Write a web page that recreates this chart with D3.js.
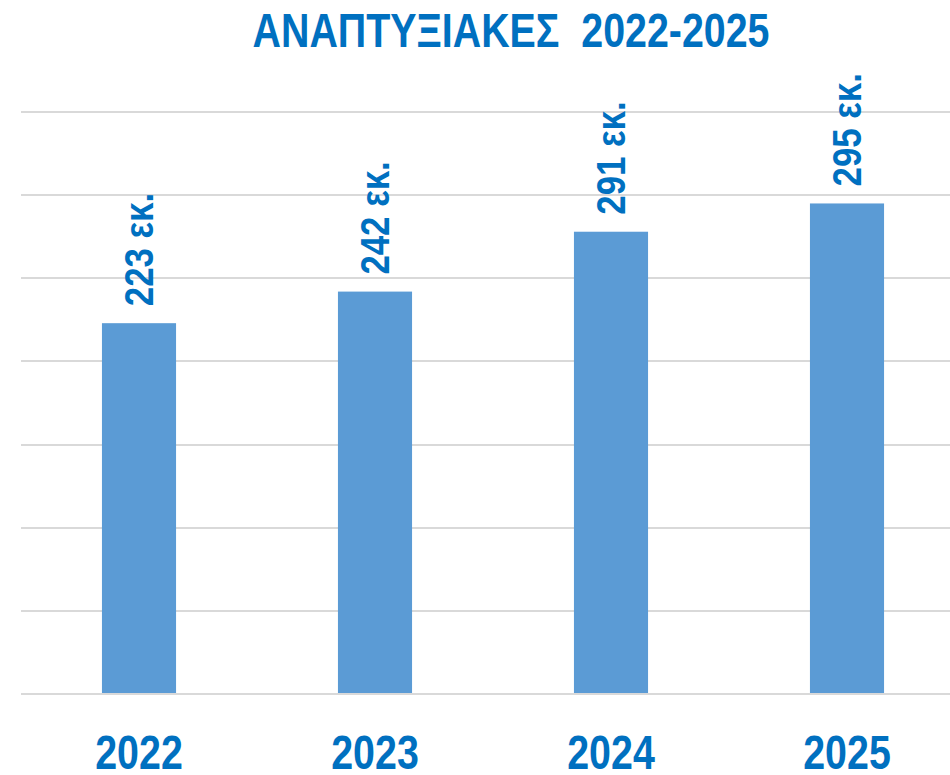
<!DOCTYPE html>
<html><head><meta charset="utf-8">
<script src="https://cdn.jsdelivr.net/npm/d3@7/dist/d3.min.js"></script>
<style>html,body{margin:0;padding:0;background:#fff;overflow:hidden}</style>
</head><body>
<svg id="chart" width="950" height="775"></svg>
<script>
const title = "ΑΝΑΠΤΥΞΙΑΚΕΣ  2022-2025";
const categories = ["2022", "2023", "2024", "2025"];
const values = [223, 242, 278, 295];
const valueLabels = ["223 εκ.", "242 εκ.", "291 εκ.", "295 εκ."];
const yTicks = [0, 50, 100, 150, 200, 250, 300, 350];

const svg = d3.select("#chart");
const W = 950, H = 775;
const m = {left: 21, right: -15, top: 112, bottom: 81};
const font = "'Liberation Sans Narrow', 'Liberation Sans', Arial, sans-serif";
const blue = "#0070C0";
const narrowX = 0.82;

const x = d3.scaleBand().domain(categories).range([m.left, W - m.right]).paddingInner(0.686).paddingOuter(0.343);
const y = d3.scaleLinear().domain([0, 350]).range([H - m.bottom, m.top]);

svg.append("g").selectAll("line").data(yTicks).join("line")
  .attr("x1", m.left).attr("x2", W - m.right)
  .attr("y1", d => Math.round(y(d))).attr("y2", d => Math.round(y(d)))
  .attr("stroke", "#d9d9d9").attr("stroke-width", 2);

svg.append("g").selectAll("rect").data(values).join("rect")
  .attr("x", (d, i) => x(categories[i]))
  .attr("width", x.bandwidth())
  .attr("y", d => y(d))
  .attr("height", d => y(0) - y(d) - 1)
  .attr("fill", "#5B9BD5");

svg.append("g").selectAll("text").data(values).join("text")
  .attr("transform", (d, i) => `translate(${x(categories[i]) + x.bandwidth() / 2 + 14},${y(d) - 17}) rotate(-90) scale(0.87,1)`)
  .attr("font-family", font).attr("font-weight", "bold").attr("font-size", 40)
  .attr("fill", blue)
  .text((d, i) => valueLabels[i]);

svg.append("g").selectAll("text").data(categories).join("text")
  .attr("transform", d => `translate(${x(d) + x.bandwidth() / 2},769) scale(${narrowX},1)`)
  .attr("text-anchor", "middle")
  .attr("font-family", font).attr("font-weight", "bold").attr("font-size", 48)
  .attr("fill", blue)
  .text(d => d);

svg.append("text")
  .attr("transform", `translate(511,47) scale(${narrowX},1)`)
  .attr("text-anchor", "middle")
  .attr("font-family", font).attr("font-weight", "bold").attr("font-size", 48)
  .attr("fill", blue)
  .style("white-space", "pre")
  .text(title);
</script>
</body></html>
